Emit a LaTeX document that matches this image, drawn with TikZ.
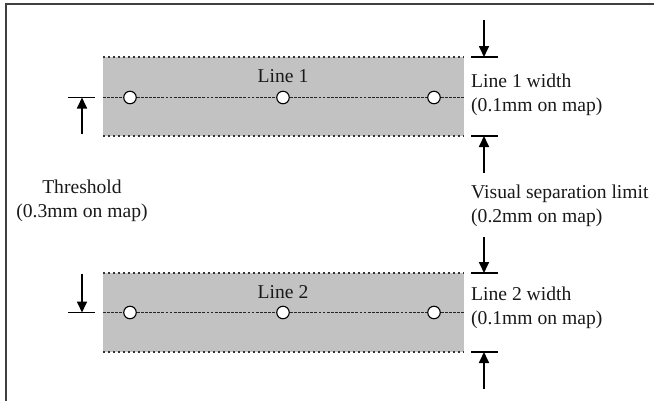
\documentclass[tikz,border=0pt]{standalone}
\usepackage{fontspec}
\setmainfont{Liberation Serif}
\usetikzlibrary{arrows.meta}
\begin{document}
\begin{tikzpicture}[x=1pt,y=-1pt,
  band/.style={fill=black!24, draw=none},
  edgeline/.style={line width=1.7pt, black!80, dash pattern=on 1.6pt off 3.4pt},
  centreline/.style={line width=1.4pt, black!85, dash pattern=on 2.8pt off 1.3pt},
  vertex/.style={circle, draw=black, fill=white, line width=1.1pt, minimum size=12.5pt, inner sep=0pt},
  tick/.style={line width=1.1pt, black},
  dimarrow/.style={line width=1.7pt, -{Triangle[length=11pt,width=10pt]}},
  lbl/.style={font=\fontsize{19.6}{24}\selectfont, inner sep=0pt, text=black!90},
  frameline/.style={line width=2pt, black!75}
]
\useasboundingbox (0,0) rectangle (654,400);
\draw[frameline] (6,401) -- (6,4) -- (655,4);

% band 1
\fill[band] (103,57) rectangle (464,136);
\draw[edgeline] (103,57) -- (464,57);
\draw[edgeline] (103,136) -- (464,136);
\coordinate (l1a) at (103,97.5);
\coordinate (l1b) at (464,97.5);
\node[vertex] (p11) at (130,97.5) {};
\node[vertex] (p12) at (283,97.5) {};
\node[vertex] (p13) at (434,97.5) {};
\draw[centreline] (l1a) -- (p11) -- (p12) -- (p13) -- (l1b);
\node[lbl] (t1) at (283,76) {Line 1};

% band 2
\fill[band] (103,273) rectangle (464,352);
\draw[edgeline] (103,273) -- (464,273);
\draw[edgeline] (103,352) -- (464,352);
\coordinate (l2a) at (103,312.5);
\coordinate (l2b) at (464,312.5);
\node[vertex] (p21) at (130,312.5) {};
\node[vertex] (p22) at (283,312.5) {};
\node[vertex] (p23) at (434,312.5) {};
\draw[centreline] (l2a) -- (p21) -- (p22) -- (p23) -- (l2b);
\node[lbl] (t2) at (283,292) {Line 2};

% left dimension (threshold)
\coordinate (la1) at (68,97.5);  \coordinate (lb1) at (95,97.5);
\coordinate (lt1) at (82,97.5);  \coordinate (ls1) at (82,134);
\draw[tick] (la1) -- (lb1);
\draw[dimarrow] (ls1) -- (lt1);
\coordinate (la2) at (68,312.5); \coordinate (lb2) at (95,312.5);
\coordinate (lt2) at (82,312.5); \coordinate (ls2) at (82,274);
\draw[tick] (la2) -- (lb2);
\draw[dimarrow] (ls2) -- (lt2);
\node[lbl, align=center] (thr) at (82,201) {Threshold\\(0.3mm on map)};

% right dimensions
\coordinate (ra1) at (471,57);  \coordinate (rb1) at (498,57);
\coordinate (rs1) at (484,20);  \coordinate (rt1) at (484,57);
\draw[tick] (ra1) -- (rb1);
\draw[dimarrow] (rs1) -- (rt1);
\coordinate (ra2) at (471,136); \coordinate (rb2) at (498,136);
\coordinate (rs2) at (484,173); \coordinate (rt2) at (484,136);
\draw[tick] (ra2) -- (rb2);
\draw[dimarrow] (rs2) -- (rt2);
\coordinate (ra3) at (471,273); \coordinate (rb3) at (498,273);
\coordinate (rs3) at (484,237); \coordinate (rt3) at (484,273);
\draw[tick] (ra3) -- (rb3);
\draw[dimarrow] (rs3) -- (rt3);
\coordinate (ra4) at (471,352); \coordinate (rb4) at (498,352);
\coordinate (rs4) at (484,389); \coordinate (rt4) at (484,352);
\draw[tick] (ra4) -- (rb4);
\draw[dimarrow] (rs4) -- (rt4);

\node[lbl, align=left, anchor=west] (w1) at (471,95) {Line 1 width\\(0.1mm on map)};
\node[lbl, align=left, anchor=west] (vs) at (471,206) {Visual separation limit\\(0.2mm on map)};
\node[lbl, align=left, anchor=west] (w2) at (471,308) {Line 2 width\\(0.1mm on map)};
\end{tikzpicture}
\end{document}
